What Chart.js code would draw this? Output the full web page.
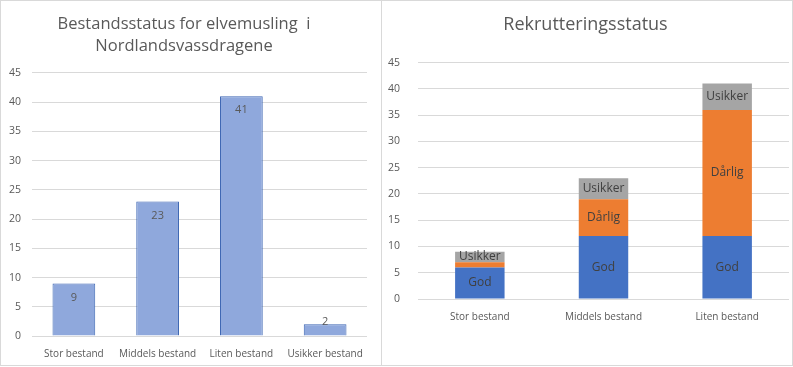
<!DOCTYPE html>
<html>
<head>
<meta charset="utf-8">
<script src="https://cdn.jsdelivr.net/npm/chart.js@4.4.1/dist/chart.umd.min.js"></script>
<style>
  html, body { margin: 0; padding: 0; background: #fff; }
  body { width: 793px; height: 367px; position: relative; overflow: hidden; }
  .panel { position: absolute; top: 0; height: 366px; border: 1px solid #d9d9d9; box-sizing: border-box; background: #fff; }
  #leftPanel { left: 0; width: 382px; }
  #rightPanel { left: 381px; width: 412px; }
  canvas { display: block; }
</style>
</head>
<body>
<div class="panel" id="leftPanel"><canvas id="stockChart" width="380" height="364"></canvas></div>
<div class="panel" id="rightPanel"><canvas id="recruitChart" width="410" height="364"></canvas></div>

<script>
// ===== 1. DATA =====
const stockCategories = ['Stor bestand', 'Middels bestand', 'Liten bestand', 'Usikker bestand'];
const stockCounts = [9, 23, 41, 2];

const recruitCategories = ['Stor bestand', 'Middels bestand', 'Liten bestand'];
const godValues = [6, 12, 12];
const darligValues = [1, 7, 24];
const usikkerValues = [2, 4, 5];

const yTicks = [0, 5, 10, 15, 20, 25, 30, 35, 40, 45];

const FONT = "'Open Sans', 'Noto Sans', sans-serif";
const gridColor = '#d9d9d9';
const textGray = '#595959';

// ===== 2. LABEL PLUGINS =====
// value labels at inside end of the single-series bars
const topLabels = {
    id: 'topLabels',
    afterDatasetsDraw(chart) {
        const ctx = chart.ctx;
        const meta = chart.getDatasetMeta(0);
        ctx.save();
        ctx.font = '11px ' + FONT;
        ctx.fillStyle = textGray;
        ctx.textAlign = 'center';
        ctx.textBaseline = 'middle';
        meta.data.forEach((bar, i) => {
            const h = bar.base - bar.y;
            const y = h < 24 ? bar.y - 2 : bar.y + 14;
            ctx.fillText(String(chart.data.datasets[0].data[i]), bar.x, y);
        });
        ctx.restore();
    }
};

// series name centered in each stacked segment (skip tiny ones)
const segmentLabels = {
    id: 'segmentLabels',
    afterDatasetsDraw(chart) {
        const ctx = chart.ctx;
        ctx.save();
        ctx.font = '12px ' + FONT;
        ctx.fillStyle = '#404040';
        ctx.textAlign = 'center';
        ctx.textBaseline = 'middle';
        chart.data.datasets.forEach((ds, di) => {
            const meta = chart.getDatasetMeta(di);
            meta.data.forEach((bar, i) => {
                if (ds.data[i] < 2) return;
                ctx.fillText(ds.label, bar.x, (bar.y + bar.base) / 2);
            });
        });
        ctx.restore();
    }
};

function yScale(width, pad) {
    return {
        min: 0, max: 45,
        afterBuildTicks: (s) => { s.ticks = yTicks.map(v => ({ value: v })); },
        afterFit: (s) => { s.width = width; },
        ticks: { color: textGray, font: { family: FONT, size: 10.5 }, padding: pad },
        grid: { color: gridColor, drawTicks: false },
        border: { display: false }
    };
}

function xScale(height) {
    return {
        afterFit: (s) => { s.height = height; s.paddingLeft = 0; s.paddingRight = 0; },
        ticks: { color: textGray, font: { family: FONT, size: 10 }, padding: 4, maxRotation: 0, minRotation: 0, autoSkip: false },
        grid: { display: false },
        border: { display: false }
    };
}

// ===== 3. LEFT CHART =====
new Chart(document.getElementById('stockChart'), {
    type: 'bar',
    data: {
        labels: stockCategories,
        datasets: [{
            data: stockCounts,
            backgroundColor: '#8fa8dc',
            borderColor: '#3d66b3',
            borderWidth: 1,
            barPercentage: 0.51,
            categoryPercentage: 1
        }]
    },
    options: {
        responsive: false,
        animation: false,
        layout: { padding: { left: 0, right: 14, top: 0, bottom: 0 } },
        plugins: {
            legend: { display: false },
            tooltip: { enabled: false },
            title: {
                display: true,
                text: ['Bestandsstatus for elvemusling  i', 'Nordlandsvassdragene'],
                color: textGray,
                font: { family: FONT, size: 16.5, weight: 'normal', lineHeight: 1.33 },
                padding: { top: 12, bottom: 16 }
            }
        },
        scales: {
            x: xScale(29),
            y: yScale(31, 11)
        }
    },
    plugins: [topLabels]
});

// ===== 4. RIGHT CHART =====
new Chart(document.getElementById('recruitChart'), {
    type: 'bar',
    data: {
        labels: recruitCategories,
        datasets: [
            { label: 'God', data: godValues, backgroundColor: '#4472c4' },
            { label: 'Dårlig', data: darligValues, backgroundColor: '#ed7d31' },
            { label: 'Usikker', data: usikkerValues, backgroundColor: '#a5a5a5' }
        ].map(d => Object.assign(d, { barPercentage: 0.4, categoryPercentage: 1 }))
    },
    options: {
        responsive: false,
        animation: false,
        layout: { padding: { left: 0, right: 3, top: 0, bottom: 40 } },
        plugins: {
            legend: { display: false },
            tooltip: { enabled: false },
            title: {
                display: true,
                text: 'Rekrutteringsstatus',
                color: textGray,
                font: { family: FONT, size: 18, weight: 'normal', lineHeight: 1.2 },
                padding: { top: 13, bottom: 27 }
            }
        },
        scales: {
            x: Object.assign(xScale(26), { stacked: true }),
            y: Object.assign(yScale(36, 18), { stacked: true })
        }
    },
    plugins: [segmentLabels]
});
</script>
</body>
</html>
